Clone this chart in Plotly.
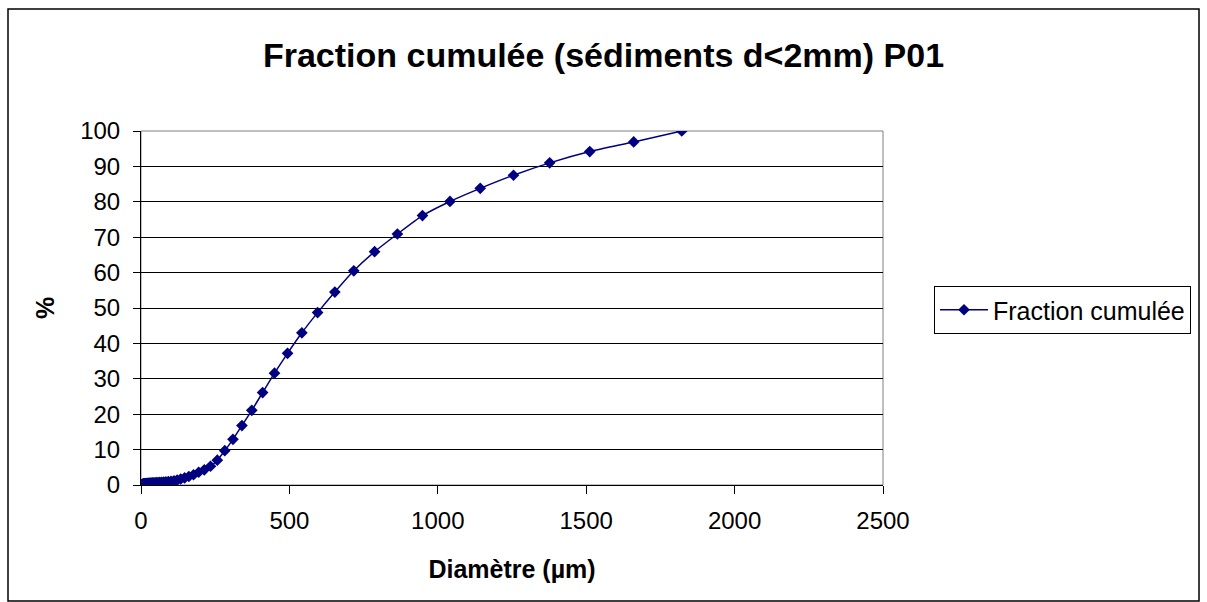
import plotly.graph_objects as go

diametre_um = [2.67, 2.93, 3.22, 3.53, 3.88, 4.26, 4.67, 5.13, 5.63, 6.18, 6.78, 7.44,
               8.17, 8.97, 9.84, 10.8, 11.9, 13.0, 14.3, 15.7, 17.2, 18.9, 20.7, 22.8,
               25.0, 27.4, 30.1, 33.1, 36.3, 39.8, 43.7, 48.0, 52.7, 57.9, 63.5, 69.7,
               76.5, 84.0, 92.2, 101.2, 111.1, 121.9, 133.8, 146.9, 161.3, 177.0, 194.3,
               213.3, 234.2, 257.1, 282.2, 309.8, 340.1, 373.3, 409.8, 449.8, 493.8,
               542.0, 595.0, 653.1, 716.9, 787.0, 863.9, 948.3, 1041, 1143, 1255, 1377,
               1512, 1660, 1822]
fraction_cumulee = [0.01, 0.02, 0.03, 0.05, 0.07, 0.09, 0.11, 0.13, 0.15, 0.17, 0.19, 0.21,
                    0.23, 0.25, 0.27, 0.29, 0.31, 0.33, 0.35, 0.37, 0.39, 0.41, 0.43, 0.45,
                    0.47, 0.49, 0.51, 0.53, 0.56, 0.58, 0.61, 0.64, 0.67, 0.70, 0.74, 0.78,
                    0.82, 0.88, 0.95, 1.05, 1.2, 1.4, 1.7, 2.0, 2.4, 2.9, 3.6,
                    4.3, 5.3, 7.0, 9.7, 12.9, 16.8, 21.1, 26.1, 31.6, 37.2,
                    43.0, 48.7, 54.5, 60.5, 65.9, 70.9, 76.1, 80.1, 83.8, 87.5, 91.0,
                    94.2, 96.9, 100]

x_ticks = [0, 500, 1000, 1500, 2000, 2500]
y_ticks = [0, 10, 20, 30, 40, 50, 60, 70, 80, 90, 100]

FONT = "Arial, Liberation Sans, sans-serif"
NAVY = "#000080"

fig = go.Figure()
fig.add_trace(go.Scatter(
    x=diametre_um, y=fraction_cumulee, mode="lines+markers",
    name="Fraction cumulée",
    line=dict(color=NAVY, width=1.5, shape="spline", smoothing=0.6),
    marker=dict(symbol="diamond", size=9, color=NAVY),
))

L, R, T, B = 141, 324, 131, 117
W, H = 1207, 602
pw, ph = W - L - R, H - T - B

def px(xp):
    return (xp - L) / pw

def py(yp):
    return (H - B - yp) / ph

fig.update_layout(
    width=W, height=H,
    margin=dict(l=L, r=R, t=T, b=B, autoexpand=False),
    paper_bgcolor="white", plot_bgcolor="white",
    font=dict(family=FONT, size=24, color="black"),
    title=dict(text="<b>Fraction cumulée (sédiments d<2mm) P01</b>",
               x=0.5, xanchor="center", y=1 - 55 / H, yanchor="middle",
               font=dict(size=34, family=FONT, color="black")),
    showlegend=True,
    legend=dict(x=px(934), xanchor="left", y=py(310), yanchor="middle",
                bordercolor="black", borderwidth=1, bgcolor="white",
                font=dict(size=25, family=FONT, color="black"),
                itemwidth=48, tracegroupgap=0),
    xaxis=dict(range=[0, 2500], tickvals=x_ticks, ticktext=[str(v) for v in x_ticks],
               showgrid=False, zeroline=False, showline=True, linecolor="black",
               linewidth=1, ticks="outside", ticklen=8, tickcolor="black",
               tickfont=dict(size=24), ticklabelstandoff=6,
               title=dict(text="<b>Diamètre (µm)</b>", font=dict(size=25), standoff=27)),
    yaxis=dict(range=[0, 100], tickvals=y_ticks, ticktext=[str(v) for v in y_ticks],
               showgrid=True, gridcolor="black", gridwidth=1, zeroline=False,
               showline=True, linecolor="black", linewidth=1, ticks="outside",
               ticklen=7, tickcolor="black", tickfont=dict(size=24),
               ticklabelstandoff=8,
               title=dict(text="<b>%</b>", font=dict(size=25), standoff=18)),
    shapes=[
        dict(type="rect", xref="paper", yref="paper", x0=0, x1=1, y0=0, y1=1,
             line=dict(color="#808080", width=1), layer="below"),
        dict(type="rect", xref="paper", yref="paper", x0=px(8), x1=px(1199),
             y0=py(601), y1=py(9), line=dict(color="black", width=1.5)),
    ],
)

fig.write_html("out.html")
